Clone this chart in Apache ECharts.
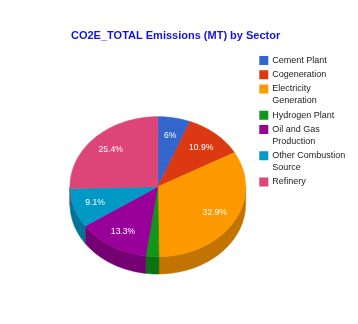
<!DOCTYPE html>
<html>
<head>
<meta charset="utf-8">
<script src="https://cdn.jsdelivr.net/npm/echarts@6/dist/echarts.min.js"></script>
<style>html,body{margin:0;padding:0;background:#fff;}#c{width:358px;height:324px;}</style>
</head>
<body>
<div id="c"></div>
<script>
const titleText = 'CO2E_TOTAL Emissions (MT) by Sector';
const categories = ['Cement Plant', 'Cogeneration', 'Electricity Generation', 'Hydrogen Plant', 'Oil and Gas Production', 'Other Combustion Source', 'Refinery'];
const legendLabels = ['Cement Plant', 'Cogeneration', 'Electricity\nGeneration', 'Hydrogen Plant', 'Oil and Gas\nProduction', 'Other Combustion\nSource', 'Refinery'];
const values = [6.0, 10.9, 32.9, 2.4, 13.3, 9.1, 25.4];
const colors = ['#3366cc', '#dc3912', '#ff9900', '#109618', '#990099', '#0099c6', '#dd4477'];

const FONT = "'Liberation Sans', Arial, sans-serif";
const total = values.reduce((a, b) => a + b, 0);

function darken(hex, f) {
  const n = parseInt(hex.slice(1), 16);
  const r = Math.round(((n >> 16) & 255) * f), g = Math.round(((n >> 8) & 255) * f), b = Math.round((n & 255) * f);
  return 'rgb(' + r + ',' + g + ',' + b + ')';
}

// layout of the tilted pie
const geo = { cx: 157.8, cy: 186.7, rx: 87.8, ry: 70, depth: 17.3 };
function pt(t, dy) { return [geo.cx + geo.rx * Math.sin(t), geo.cy - geo.ry * Math.cos(t) + (dy || 0)]; }
function arc(a0, a1, dy) {
  const n = Math.max(2, Math.ceil((a1 - a0) / (Math.PI / 180)));
  const out = [];
  for (let k = 0; k <= n; k++) out.push(pt(a0 + (a1 - a0) * k / n, dy));
  return out;
}

function renderItem(params, api) {
  const i = params.dataIndex;
  let before = 0;
  for (let j = 0; j < i; j++) before += values[j];
  const v = api.value(0);
  const a0 = before / total * 2 * Math.PI;
  const a1 = (before + v) / total * 2 * Math.PI;
  const children = [];
  // side wall (front half only)
  const s0 = Math.max(a0, Math.PI / 2), s1 = Math.min(a1, 3 * Math.PI / 2);
  if (s1 > s0) {
    const top = arc(s0, s1, 0);
    const bot = arc(s0, s1, geo.depth).reverse();
    children.push({
      type: 'polygon', z2: 1,
      shape: { points: top.concat(bot) },
      style: { fill: darken(colors[i], 0.76), stroke: darken(colors[i], 0.76), lineWidth: 0.6 }
    });
  }
  // top face
  children.push({
    type: 'polygon', z2: 10,
    shape: { points: [[geo.cx, geo.cy]].concat(arc(a0, a1, 0)) },
    style: { fill: colors[i], stroke: colors[i], lineWidth: 0.6 }
  });
  const pct = v / total * 100;
  if (pct >= 4) {
    const am = (a0 + a1) / 2;
    children.push({
      type: 'text', z2: 20,
      x: geo.cx + 0.75 * geo.rx * Math.sin(am),
      y: geo.cy - 0.75 * geo.ry * Math.cos(am),
      style: { text: parseFloat(pct.toFixed(1)) + '%', fill: '#ffffff', fontSize: 8.6, fontFamily: FONT, align: 'center', verticalAlign: 'middle' }
    });
  }
  return { type: 'group', children: children };
}

const rich = {
  g: { width: 4, height: 9 },
  s: { width: 13, height: 9 },
  t: { fontSize: 9, lineHeight: 12, color: '#222222', fontFamily: FONT }
};
colors.forEach((c, i) => { rich['c' + i] = { width: 9, height: 9, backgroundColor: c }; });

const chart = echarts.init(document.getElementById('c'));
chart.setOption({
  backgroundColor: '#ffffff',
  animation: false,
  title: {
    text: titleText, left: 71, top: 30, padding: 0,
    textStyle: { fontSize: 11, fontWeight: 'bold', color: '#1414dc', fontFamily: FONT }
  },
  legend: {
    orient: 'vertical', left: 254.3, top: 54.5, padding: 0,
    itemWidth: 0, itemHeight: 0, itemGap: 2.25, icon: 'rect',
    selectedMode: false,
    data: categories,
    formatter: function (name) {
      const i = categories.indexOf(name);
      return legendLabels[i].split('\n').map((l, k) => (k === 0 ? '{c' + i + '|}{g|}' : '{s|}') + '{t|' + l + '}').join('\n');
    },
    textStyle: { fontSize: 9, lineHeight: 12, color: '#222222', fontFamily: FONT, rich: rich }
  },
  series: [
    {
      type: 'pie', radius: 0, silent: true,
      label: { show: false }, labelLine: { show: false },
      data: categories.map((n, i) => ({ name: n, value: values[i], itemStyle: { color: colors[i] } }))
    },
    {
      type: 'custom', coordinateSystem: 'none', silent: true,
      renderItem: renderItem,
      data: categories.map((n, i) => ({ name: n, value: values[i] }))
    }
  ]
});
</script>
</body>
</html>
